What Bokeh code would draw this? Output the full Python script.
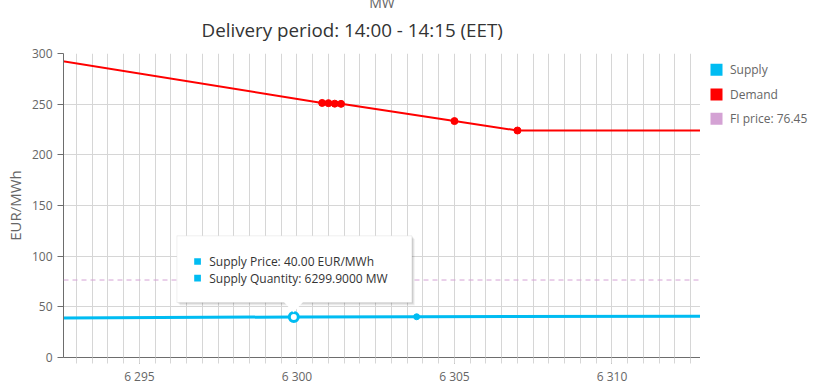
import numpy as np
from bokeh.plotting import figure
from bokeh.layouts import row
from bokeh.models import (Range1d, FixedTicker, Span, Label, BoxAnnotation,
                          PolyAnnotation, Title, ColumnDataSource)
from bokeh.core.properties import value
from bokeh.embed import file_html
from bokeh.resources import INLINE

# ---------------- data ----------------
title_text = "Delivery period: 14:00 - 14:15 (EET)"
x_axis_title = "MW"
y_axis_title = "EUR/MWh"

supply_quantity = [6280.0, 6299.9, 6303.8, 6325.0]
supply_price = [37.5, 40.0, 40.2, 41.6]

demand_quantity = [6290.0, 6300.8, 6301.0, 6301.2, 6301.4, 6305.0, 6307.0, 6320.0]
demand_price = [305.1, 251.2, 251.0, 250.5, 250.3, 233.3, 224.0, 224.0]

fi_price = 76.45
hover_index = 1

series_names = ["Supply", "Demand", "FI price: %.2f" % fi_price]

x_tick_values = [6295, 6300, 6305, 6310]
x_tick_labels = ["6 295", "6 300", "6 305", "6 310"]
y_tick_values = [0, 50, 100, 150, 200, 250, 300]
x_view = (6292.59, 6312.81)
y_view = (0, 300)

# ---------------- style ----------------
FONT = "Open Sans"
SUPPLY = "#00bcf2"
DEMAND = "#ff0000"
FI = "#d4a2d4"
AXIS = "#6d6d6d"
GRID = "#d6d6d6"
LABEL = "#666666"
series_colors = [SUPPLY, DEMAND, FI]

p = figure(frame_width=637, frame_height=304, output_backend="svg", toolbar_location=None,
           x_range=Range1d(*x_view), y_range=Range1d(*y_view),
           min_border_left=63, min_border_right=0, min_border_top=53,
           min_border_bottom=34)
p.outline_line_color = None
p.title.text = ""

grid_positions = list(np.arange(6293.0, 6313.0, 0.5))

p.xaxis.ticker = FixedTicker(ticks=x_tick_values, minor_ticks=grid_positions)
p.xaxis.major_label_overrides = dict(zip(x_tick_values, x_tick_labels))
p.xaxis.major_tick_out = 6
p.xaxis.major_tick_in = 0
p.xaxis.minor_tick_out = 6
p.xaxis.minor_tick_in = 0
p.xaxis.minor_tick_line_color = GRID
p.xaxis.major_tick_line_color = AXIS
p.xaxis.axis_line_color = AXIS
p.xaxis.major_label_standoff = 4
p.xaxis.major_label_text_font = FONT
p.xaxis.major_label_text_font_size = "12px"
p.xaxis.major_label_text_color = LABEL

p.yaxis.ticker = FixedTicker(ticks=y_tick_values, minor_ticks=[])
p.yaxis.major_tick_out = 6
p.yaxis.major_tick_in = 0
p.yaxis.major_tick_line_color = AXIS
p.yaxis.axis_line_color = AXIS
p.yaxis.major_label_standoff = 5
p.yaxis.major_label_text_font = FONT
p.yaxis.major_label_text_font_size = "12px"
p.yaxis.major_label_text_color = LABEL
p.yaxis.axis_label = y_axis_title
p.yaxis.axis_label_text_font = FONT
p.yaxis.axis_label_text_font_size = "15px"
p.yaxis.axis_label_text_font_style = "normal"
p.yaxis.axis_label_text_color = LABEL
p.yaxis.axis_label_standoff = 4

p.xgrid.ticker = FixedTicker(ticks=grid_positions)
p.xgrid.grid_line_color = GRID
p.ygrid.ticker = FixedTicker(ticks=y_tick_values)
p.ygrid.grid_line_color = GRID

# FI price line
p.add_layout(Span(location=fi_price, dimension="width", line_color=FI,
                  line_dash="5 4", line_width=1))

# series
p.line(supply_quantity, supply_price, line_color=SUPPLY, line_width=3)
p.scatter(supply_quantity, supply_price, size=6, color=SUPPLY)
p.line(demand_quantity, demand_price, line_color=DEMAND, line_width=2)
p.scatter(demand_quantity, demand_price, size=7, color=DEMAND)

# hovered point
p.scatter([supply_quantity[hover_index]], [supply_price[hover_index]], size=9,
          fill_color="white", line_color=SUPPLY, line_width=3)

# titles (above panel); the x-axis title "MW" sits at the very top, cut by the edge
p.add_layout(Title(text=title_text, align="left", offset=138, vertical_align="bottom",
                   standoff=22, text_font=FONT, text_font_size="18.8px",
                   text_font_style="normal", text_color="#333333"), "above")
p.add_layout(Title(text=x_axis_title, align="center", vertical_align="top", standoff=-21,
                   text_font=FONT, text_font_size="14px", text_font_style="normal",
                   text_color=LABEL), "above")

# tooltip
hq = supply_quantity[hover_index]
hp = supply_price[hover_index]
for d, a in [(3, 0.05), (2, 0.07), (1, 0.09)]:
    p.add_layout(BoxAnnotation(left=113.4 + d, right=348.4 + d, top=121.7 - d, bottom=55.0 - d,
                               left_units="screen", right_units="screen",
                               top_units="screen", bottom_units="screen",
                               fill_color="black", fill_alpha=a, line_color=None))
p.add_layout(BoxAnnotation(left=113.4, right=348.4, top=121.7, bottom=55.0,
                           left_units="screen", right_units="screen",
                           top_units="screen", bottom_units="screen",
                           fill_color="white", fill_alpha=1, line_color="#cccccc",
                           line_width=1))
p.add_layout(PolyAnnotation(xs=[220.0, 240.0, 230.0], ys=[56.0, 56.0, 45.0],
                            xs_units="screen", ys_units="screen",
                            fill_color="white", fill_alpha=1, line_color=None))
rows = ["Supply Price: %.2f EUR/MWh" % hp, "Supply Quantity: %.4f MW" % hq]
for txt, ty in zip(rows, [96.0, 79.4]):
    p.add_layout(BoxAnnotation(left=130.7, right=137.4, top=ty + 3.3, bottom=ty - 3.3,
                               left_units="screen", right_units="screen",
                               top_units="screen", bottom_units="screen",
                               fill_color=SUPPLY, fill_alpha=1, line_color=None))
    p.add_layout(Label(x=145.7, y=ty, x_units="screen", y_units="screen", text=txt,
                       text_align="left", text_baseline="middle", text_font=FONT,
                       text_font_size="12px", text_color="#333333"))

# ---------------- legend panel (page-pixel-like coordinates, y downward) ----------------
# its frame is aligned with the main frame (rows align plot frames)
lg = figure(frame_width=123, frame_height=304, output_backend="svg", toolbar_location=None,
            x_range=Range1d(0, 123), y_range=Range1d(357, 53),
            min_border_left=0, min_border_right=0, min_border_top=53,
            min_border_bottom=34, outline_line_color=None)
lg.axis.visible = False
lg.grid.visible = False
row_y = [69.3, 94.0, 118.3]
src = ColumnDataSource(dict(
    left=[10.0] * 3, right=[22.0] * 3,
    top=[y - 6 for y in row_y], bottom=[y + 6 for y in row_y],
    tx=[29.5] * 3, ty=row_y, name=series_names, color=series_colors))
lg.quad(left="left", right="right", top="top", bottom="bottom", fill_color="color",
        line_color=None, source=src)
lg.text(x="tx", y="ty", text="name", source=src, text_font=value(FONT),
        text_font_size="12px", text_color=LABEL, text_baseline="middle", text_align="left")

layout = row(p, lg)
open("out.html", "w").write(file_html(layout, INLINE))
